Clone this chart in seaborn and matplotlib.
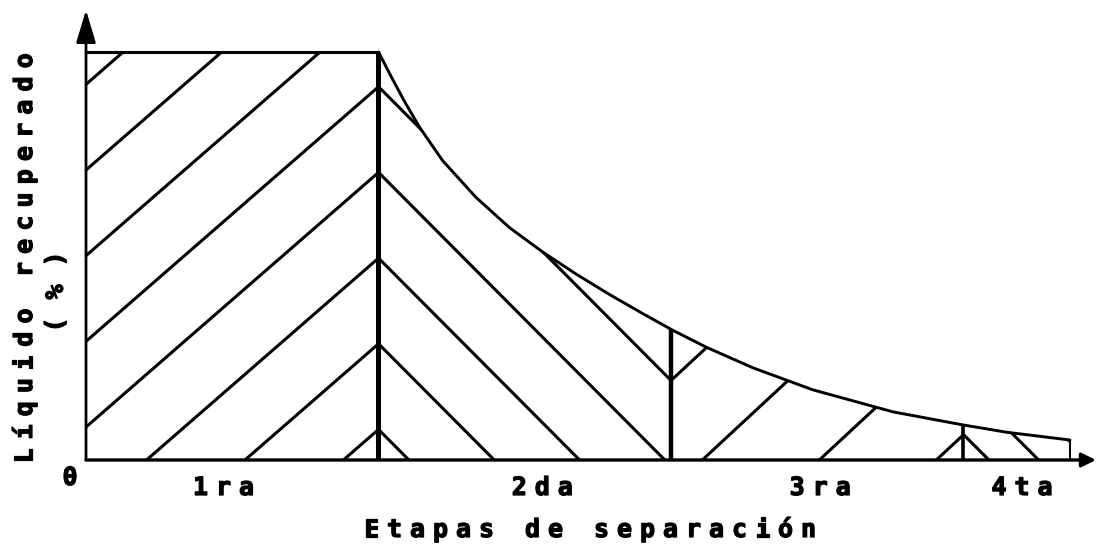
import numpy as np
import matplotlib
matplotlib.use("Agg")
import matplotlib.pyplot as plt
import matplotlib.patheffects as pe
import seaborn as sns
from matplotlib import transforms
from matplotlib.patches import Polygon

# etapas (limites en el eje x) y nombres
stage_edges = [0, 1, 2, 3, 3.364]
stage_labels = ["1ra", "2da", "3ra", "4ta"]
first_stage_level = 100

# curva de liquido recuperado despues de la 1ra etapa (%)
curve_x = [1.0, 1.049, 1.088, 1.14, 1.219, 1.333, 1.447, 1.561, 1.675,
           1.789, 1.903, 2.006, 2.122, 2.28, 2.485, 2.759, 2.998, 3.148, 3.364]
curve_y = [100, 93.2, 88.0, 81.6, 73.4, 64.4, 57.0, 51.0, 45.6,
           40.6, 35.9, 31.8, 27.6, 22.6, 17.2, 11.8, 8.6, 6.8, 4.9]

xlabel = "Etapas de separación"
ylabel = "Líquido recuperado"
ylabel2 = "(%)"

# estilo del rayado por etapa: pendiente, paso y un corte con la base
hatch_slope = [62.4, -72, 66.5, -71.6]
hatch_step = [0.3365, 0.2917, 0.40, 0.17]
hatch_anchor = [0.88, 1.104, 2.907, 3.087]
label_x = [0.47, 1.56, 2.51, 3.2]
divider_lw = [3.6, 3.2, 2.6]

sns.set_theme(style="white")
font = dict(family="DejaVu Sans Mono", weight="bold", size=18, color="black",
            path_effects=[pe.withStroke(linewidth=0.9, foreground="black")])

fig = plt.figure(figsize=(10.96, 5.46), dpi=100)
ax = fig.add_axes([86 / 1096, 86 / 546, 1010 / 1096, 450 / 546])
ax.set_xlim(0, 3.453)
ax.set_ylim(0, 110.3)
ax.set_axis_off()

# contorno del area
region_x = [0, 0] + curve_x + [curve_x[-1]]
region_y = [0, first_stage_level] + curve_y + [0]
region = Polygon(np.column_stack([region_x, region_y]), closed=True,
                 fill=False, edgecolor="none")
ax.add_patch(region)

ax.hlines(first_stage_level, 0, 1, color="black", lw=2.2)
sns.lineplot(x=curve_x, y=curve_y, ax=ax, color="black", lw=2.1, sort=False)
ax.lines[-1].set_solid_joinstyle("round")
ax.vlines(curve_x[-1], 0, curve_y[-1], color="black", lw=1.4)

# rayado de cada etapa
for i in range(len(stage_labels)):
    a, b = stage_edges[i], stage_edges[i + 1]
    m, step, c0 = hatch_slope[i], hatch_step[i], hatch_anchor[i]
    for j in range(-12, 13):
        c = c0 + j * step
        xs = np.array([a, b])
        ys = m * (xs - c)
        ln, = ax.plot(xs, ys, color="black", lw=2.2, solid_capstyle="butt")
        ln.set_clip_path(region)

# divisiones entre etapas
div_x = stage_edges[1:-1]
div_h = np.interp(div_x, curve_x, curve_y)
ax.vlines(div_x, 0, div_h, color="black", lw=divider_lw)

# ejes con flechas
ax.annotate("", xy=(0, 110.3), xytext=(0, 0), xycoords="data",
            arrowprops=dict(arrowstyle="-|>,head_length=1.0,head_width=0.3",
                            mutation_scale=20, lw=2.0, color="black",
                            shrinkA=0, shrinkB=0), annotation_clip=False)
ax.annotate("", xy=(3.453, 0), xytext=(0, 0), xycoords="data",
            arrowprops=dict(arrowstyle="-|>,head_length=0.85,head_width=0.42",
                            mutation_scale=10, lw=2.4, color="black",
                            shrinkA=0, shrinkB=0), annotation_clip=False)


def spaced_text(x, y, s, pitch, trans, rotation=0):
    n = len(s)
    for k, ch in enumerate(s):
        off = (k - (n - 1) / 2) * pitch
        dx, dy = (0, off) if rotation == 90 else (off, 0)
        t = transforms.offset_copy(trans, fig=fig, x=dx, y=dy, units="dots")
        fig.text(x, y, ch, transform=t, rotation=rotation, rotation_mode="anchor",
                 ha="center", va="baseline", **font)


def fig_xy(px, py):
    return px / 1096, 1 - py / 546


base_y = -(495 - 460) / 4.08
for lx, lab in zip(label_x, stage_labels):
    spaced_text(lx, base_y, lab, 23, ax.transData)

spaced_text(*fig_xy(70, 485), "0", 23, fig.transFigure)
spaced_text(*fig_xy(590, 537), xlabel, 23, fig.transFigure)
spaced_text(*fig_xy(32, 258), ylabel, 23.2, fig.transFigure, rotation=90)
spaced_text(*fig_xy(63, 292), ylabel2, 33, fig.transFigure, rotation=90)

fig.savefig("out.png", dpi=100)
